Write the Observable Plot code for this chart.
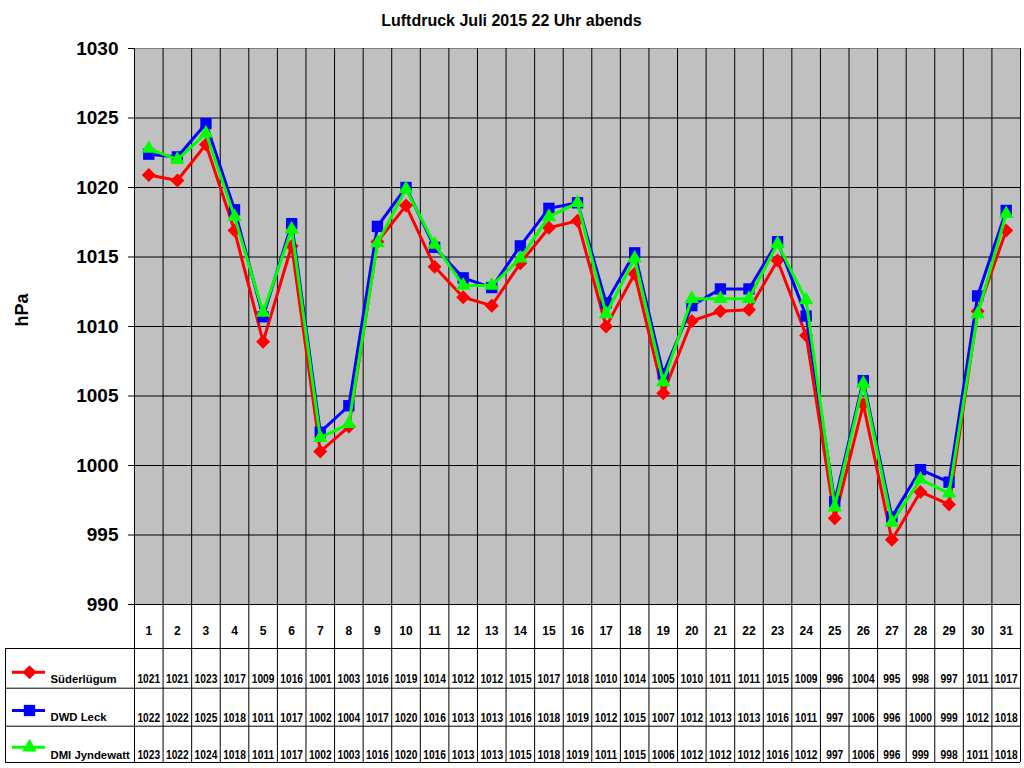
<!DOCTYPE html>
<html>
<head>
<meta charset="utf-8">
<script src="https://cdn.jsdelivr.net/npm/d3@7"></script>
<script src="https://cdn.jsdelivr.net/npm/@observablehq/plot@0.6"></script>
<style>
  html, body { margin: 0; padding: 0; background: #fff; }
  #chart svg { display: block; }
</style>
</head>
<body>
<div id="chart"></div>
<script>
// ---------- data ----------
const title = "Luftdruck Juli 2015 22 Uhr abends";
const yLabel = "hPa";
const days = [1,2,3,4,5,6,7,8,9,10,11,12,13,14,15,16,17,18,19,20,21,22,23,24,25,26,27,28,29,30,31];
const yTicks = [990, 995, 1000, 1005, 1010, 1015, 1020, 1025, 1030];
const seriesNames = ["Süderlügum", "DWD Leck", "DMI Jyndewatt"];
const seriesColors = ["#ff0000", "#0000ff", "#00ff00"];
const seriesSymbols = ["diamond2", "square", "triangle"];

// values
const suederluegum = [1020.9,1020.5,1023.1,1016.9,1008.9,1015.8,1001.0,1002.8,1016.1,1018.7,1014.3,1012.1,1011.5,1014.55,1017.1,1017.6,1010.0,1013.8,1005.2,1010.4,1011.1,1011.2,1014.75,1009.35,996.2,1004.4,994.65,998.1,997.2,1011.1,1016.9];
const dwdLeck = [1022.4,1022.2,1024.6,1018.4,1010.7,1017.4,1002.4,1004.3,1017.2,1020.0,1015.7,1013.5,1012.8,1015.8,1018.5,1018.9,1011.7,1015.3,1006.6,1011.5,1012.7,1012.7,1016.1,1010.75,997.4,1006.1,996.3,999.7,998.8,1012.2,1018.35];
const dmiJyndewatt = [1022.8,1022.0,1023.9,1017.9,1011.0,1017.0,1002.0,1003.0,1016.0,1019.9,1015.9,1012.95,1012.95,1014.9,1017.9,1018.9,1010.9,1014.9,1006.0,1012.0,1012.0,1012.0,1015.95,1011.9,997.0,1005.9,995.9,999.0,998.0,1010.9,1018.1];

// values as printed in the data table
const tableSuederluegum = [1021,1021,1023,1017,1009,1016,1001,1003,1016,1019,1014,1012,1012,1015,1017,1018,1010,1014,1005,1010,1011,1011,1015,1009,996,1004,995,998,997,1011,1017];
const tableDwdLeck = [1022,1022,1025,1018,1011,1017,1002,1004,1017,1020,1016,1013,1013,1016,1018,1019,1012,1015,1007,1012,1013,1013,1016,1011,997,1006,996,1000,999,1012,1018];
const tableDmiJyndewatt = [1023,1022,1024,1018,1011,1017,1002,1003,1016,1020,1016,1013,1013,1015,1018,1019,1011,1015,1006,1012,1012,1012,1016,1012,997,1006,996,999,998,1011,1018];

// ---------- layout (pixels) ----------
const FONT = "'Liberation Sans', Arial, sans-serif";
const tableLineOffsets = [44, 83.7, 121.7, 158];      // below plot bottom
const rowTextOffsets = [74.5, 113, 150.5];
const rowSwatchOffsets = [67.7, 106, 142.7];
const symbolR = [6.3, 6.4, 5.4];

const series = [suederluegum, dwdLeck, dmiJyndewatt];
const tables = [tableSuederluegum, tableDwdLeck, tableDmiJyndewatt];

const marks = [
  Plot.frame({fill: "#c0c0c0", stroke: "#808080"}),
  Plot.ruleY(yTicks.slice(1, -1), {stroke: "#000", strokeWidth: 1}),
  // column boundaries through plot area and table
  Plot.ruleX(days.map(d => d - 0.5).concat([days.length + 0.5]), {stroke: "#000", strokeWidth: 1, insetBottom: -158}),
];

// horizontal table lines
for (const off of tableLineOffsets) {
  marks.push(Plot.ruleY([yTicks[0]], {dy: off, insetLeft: -129, stroke: "#000", strokeWidth: 1}));
}
marks.push(Plot.ruleY([yTicks[0]], {stroke: "#000", strokeWidth: 1}));
// legend column left border
marks.push(Plot.ruleX([days[0] - 0.5], {dx: -129, insetTop: 600, insetBottom: -158, stroke: "#000"}));

// series lines and markers
series.forEach((vals, s) => {
  const data = days.map((d, i) => ({day: d, v: vals[i]}));
  marks.push(Plot.line(data, {x: "day", y: "v", stroke: seriesColors[s], strokeWidth: 3, strokeLinejoin: "miter"}));
  marks.push(Plot.dot(data, {x: "day", y: "v", symbol: () => seriesSymbols[s], fill: seriesColors[s], stroke: "none", r: symbolR[s]}));
});

// day numbers
marks.push(Plot.text(days, {x: d => d, frameAnchor: "bottom", dy: 27, text: d => String(d), fontSize: 12, fontWeight: "bold", fontFamily: FONT, lineAnchor: "middle"}));

// table values + legend
tables.forEach((vals, s) => {
  const data = days.map((d, i) => ({day: d, v: vals[i]}));
  marks.push(Plot.text(data, {x: "day", frameAnchor: "bottom", dy: rowTextOffsets[s], text: d => String(d.v), fontSize: 13.5, fontWeight: "bold", fontFamily: FONT, fill: "#000", lineAnchor: "middle", ariaLabel: () => "table-values"}));
  marks.push(Plot.ruleY([yTicks[0]], {dy: rowSwatchOffsets[s], insetLeft: -122, insetRight: 975, stroke: seriesColors[s], strokeWidth: 3}));
  marks.push(Plot.dot([0], {frameAnchor: "bottom-left", dx: -105, dy: rowSwatchOffsets[s], symbol: () => seriesSymbols[s], fill: seriesColors[s], stroke: "none", r: symbolR[s]}));
  marks.push(Plot.text([seriesNames[s]], {frameAnchor: "bottom-left", dx: -84, dy: rowTextOffsets[s], textAnchor: "start", lineAnchor: "middle", fontSize: 11.8, fontWeight: "bold", fontFamily: FONT, ariaLabel: () => "legend-labels"}));
});

// y axis
marks.push(Plot.axisY(yTicks, {tickSize: 6, tickPadding: 10, fontSize: 19, fontWeight: "bold", fontFamily: FONT, label: null, tickFormat: d => String(d), stroke: "#000"}));
// y label
marks.push(Plot.text([yLabel], {frameAnchor: "left", dx: -112, rotate: -90, fontSize: 18, fontWeight: "bold", fontFamily: FONT}));
// title
marks.push(Plot.text([title], {frameAnchor: "top-left", dx: 377, dy: -28, textAnchor: "middle", fontSize: 16, fontWeight: "bold", fontFamily: FONT, lineAnchor: "middle"}));

const chart = Plot.plot({
  width: 1024,
  height: 768,
  marginTop: 48,
  marginLeft: 134,
  marginRight: 4,
  marginBottom: 164,
  style: {fontFamily: FONT, background: "#fff", color: "#000", overflow: "visible"},
  x: {type: "linear", domain: [days[0] - 0.5, days[days.length - 1] + 0.5], axis: null},
  y: {type: "linear", domain: [yTicks[0], yTicks[yTicks.length - 1]], axis: null},
  marks
});
document.getElementById("chart").appendChild(chart);

// condense table texts (the original uses a narrow face)
function condense(label, factor) {
  d3.select(chart).selectAll(`text[aria-label="${label}"], g[aria-label="${label}"] text`).each(function () {
    const w = this.getComputedTextLength();
    if (w > 0) {
      this.setAttribute("textLength", (w * factor).toFixed(2));
      this.setAttribute("lengthAdjust", "spacingAndGlyphs");
    }
  });
}
condense("table-values", 0.757);
condense("legend-labels", 0.96);
</script>
</body>
</html>
